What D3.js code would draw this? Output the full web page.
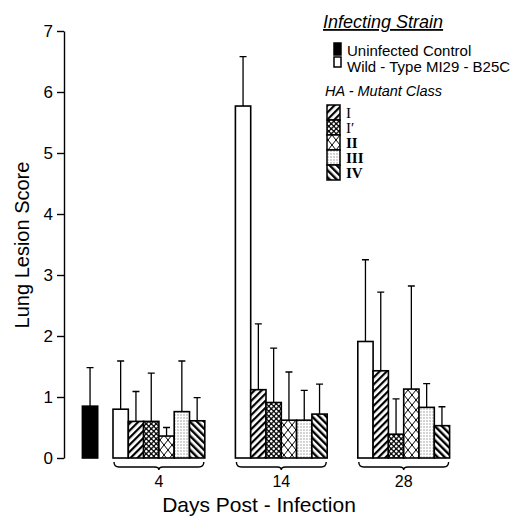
<!DOCTYPE html>
<meta charset="utf-8">
<style>
    body { margin: 0; background: #fff; }
    svg { font-family: "Liberation Sans", Arial, sans-serif; }
    .bar { stroke: #000; stroke-width: 1.6; }
    .err { stroke: #000; stroke-width: 1.3; fill: none; }
    .axis path, .axis line { stroke: #000; stroke-width: 1.4; }
    .axis text { font-size: 17px; fill: #000; }
    .brace { fill: none; stroke: #000; stroke-width: 1.4; }
</style>
<body></body>
<script src="https://cdn.jsdelivr.net/npm/d3@7"></script>
<script>

    // data
    var days = ["4", "14", "28"];
    var classes = ["Wild-Type M129-B25C", "I", "I\u2032", "II", "III", "IV"];
    var patternIds = ["wt", "p1", "p1b", "p2", "p3", "p4"];

    var controlMean = 0.85, controlUpper = 1.48;

    var means = [
        [0.80, 0.60, 0.60, 0.36, 0.76, 0.61],  // day 4
        [5.77, 1.12, 0.91, 0.62, 0.62, 0.72],  // day 14
        [1.91, 1.43, 0.39, 1.13, 0.83, 0.53]   // day 28
    ];
    // top of each error bar (mean + sd)
    var uppers = [
        [1.59, 1.09, 1.39, 0.50, 1.59, 0.99],
        [6.58, 2.20, 1.80, 1.41, 1.11, 1.21],
        [3.25, 2.72, 0.97, 2.82, 1.22, 0.84]
    ];
    var yTicks = [0, 1, 2, 3, 4, 5, 6, 7];

    var width = 513, height = 518;

    var svg = d3.select("body").append("svg")
        .attr("width", width)
        .attr("height", height);

    // patterns for the mutant classes
    var defs = svg.append("defs");

    var p = defs.append("pattern").attr("id", "p1").attr("patternUnits", "userSpaceOnUse")
        .attr("width", 5).attr("height", 5).attr("patternTransform", "rotate(45)");
    p.append("rect").attr("width", 5).attr("height", 5).attr("fill", "#fff");
    p.append("rect").attr("width", 2.2).attr("height", 5).attr("fill", "#000");

    p = defs.append("pattern").attr("id", "p1b").attr("patternUnits", "userSpaceOnUse")
        .attr("width", 5).attr("height", 5);
    p.append("rect").attr("width", 5).attr("height", 5).attr("fill", "#111");
    p.append("circle").attr("cx", 1.25).attr("cy", 1.25).attr("r", 1.2).attr("fill", "#fff");
    p.append("circle").attr("cx", 3.75).attr("cy", 3.75).attr("r", 1.2).attr("fill", "#fff");

    p = defs.append("pattern").attr("id", "p2").attr("patternUnits", "userSpaceOnUse")
        .attr("width", 8).attr("height", 10);
    p.append("rect").attr("width", 8).attr("height", 10).attr("fill", "#fff");
    p.append("path").attr("d", "M0,0L8,10M8,0L0,10")
        .attr("stroke", "#000").attr("stroke-width", 1).attr("fill", "none");

    p = defs.append("pattern").attr("id", "p3").attr("patternUnits", "userSpaceOnUse")
        .attr("width", 3).attr("height", 3);
    p.append("rect").attr("width", 3).attr("height", 3).attr("fill", "#fff");
    p.append("rect").attr("x", 0.5).attr("y", 0.5).attr("width", 1).attr("height", 1).attr("fill", "#555");

    p = defs.append("pattern").attr("id", "p4").attr("patternUnits", "userSpaceOnUse")
        .attr("width", 5).attr("height", 5).attr("patternTransform", "rotate(-45)");
    p.append("rect").attr("width", 5).attr("height", 5).attr("fill", "#fff");
    p.append("rect").attr("width", 2.4).attr("height", 5).attr("fill", "#000");

    function fillFor(id) {
        return id === "wt" ? "#fff" : "url(#" + id + ")";
    }

    // scales: x is in "bar slots", each group is 8 slots apart
    var x = d3.scaleLinear().domain([0, 1]).range([113, 128.3]);
    var y = d3.scaleLinear().domain([0, 7]).range([458, 31]);

    svg.append("g")
        .attr("class", "axis")
        .attr("transform", "translate(64,0)")
        .call(d3.axisLeft(y).tickValues(yTicks).tickFormat(d3.format("d"))
            .tickSize(7).tickSizeOuter(0).tickPadding(4))
        .attr("font-family", null);

    // build flat list of bars
    var bars = [{slot: -2, mean: controlMean, upper: controlUpper, fill: "#000"}];
    days.forEach(function(d, g) {
        classes.forEach(function(c, i) {
            bars.push({slot: g * 8 + i, mean: means[g][i], upper: uppers[g][i], fill: fillFor(patternIds[i])});
        });
    });

    var bw = x(1) - x(0);

    // error bars first so the bar outline sits over them
    svg.selectAll(".err").data(bars).enter().append("path")
        .attr("class", "err")
        .attr("d", function(d) {
            var cx = x(d.slot) + bw / 2;
            return "M" + cx + "," + y(d.mean) + "V" + y(d.upper) +
                "M" + (cx - 3.5) + "," + y(d.upper) + "H" + (cx + 3.5);
        });

    svg.selectAll(".bar").data(bars).enter().append("rect")
        .attr("class", "bar")
        .attr("x", function(d) { return x(d.slot); })
        .attr("y", function(d) { return y(d.mean); })
        .attr("width", bw)
        .attr("height", function(d) { return y(0) - y(d.mean); })
        .attr("fill", function(d) { return d.fill; });

    // braces under each group
    days.forEach(function(d, g) {
        var x0 = x(g * 8) + 1, x1 = x(g * 8 + 6) - 1, m = (x0 + x1) / 2, top = 462, low = 467;
        svg.append("path").attr("class", "brace")
            .attr("d", "M" + x0 + "," + top + "Q" + x0 + "," + low + " " + (x0 + 5) + "," + low +
                "H" + (m - 4) + "Q" + m + "," + low + " " + m + "," + (low + 3) +
                "Q" + m + "," + low + " " + (m + 4) + "," + low +
                "H" + (x1 - 5) + "Q" + x1 + "," + low + " " + x1 + "," + top);
        svg.append("text")
            .attr("x", m).attr("y", 487)
            .attr("text-anchor", "middle")
            .attr("font-size", 16)
            .text(d);
    });

    // axis titles
    svg.append("text")
        .attr("transform", "translate(29,245) rotate(-90)")
        .attr("text-anchor", "middle")
        .attr("font-size", 20)
        .text("Lung Lesion Score");

    svg.append("text")
        .attr("x", 259).attr("y", 512)
        .attr("text-anchor", "middle")
        .attr("font-size", 21)
        .text("Days Post - Infection");

    // legend
    var lg = svg.append("g");
    lg.append("text")
        .attr("x", 323).attr("y", 28)
        .attr("font-size", 18).attr("font-style", "italic")
        .attr("text-decoration", "underline")
        .text("Infecting Strain");

    lg.append("rect").attr("x", 334).attr("y", 43).attr("width", 7).attr("height", 12)
        .attr("fill", "#000").attr("stroke", "#000").attr("stroke-width", 1.5);
    lg.append("rect").attr("x", 334).attr("y", 57).attr("width", 7).attr("height", 10)
        .attr("fill", "#fff").attr("stroke", "#000").attr("stroke-width", 1.5);
    lg.append("text").attr("x", 347).attr("y", 56).attr("font-size", 15).text("Uninfected  Control");
    lg.append("text").attr("x", 347).attr("y", 72).attr("font-size", 15).text("Wild - Type  MI29 - B25C");

    lg.append("text")
        .attr("x", 325).attr("y", 96)
        .attr("font-size", 14.5).attr("font-style", "italic")
        .text("HA - Mutant  Class");

    var mutants = classes.slice(1);
    mutants.forEach(function(c, i) {
        var yy = 105 + i * 15;
        lg.append("rect").attr("x", 327).attr("y", yy).attr("width", 13).attr("height", 15)
            .attr("fill", fillFor(patternIds[i + 1])).attr("stroke", "#000").attr("stroke-width", 1.5);
        lg.append("text").attr("x", 346).attr("y", yy + 13)
            .attr("font-family", "'Liberation Serif', 'DejaVu Serif', serif")
            .attr("font-size", 15)
            .attr("font-weight", i >= 2 ? "bold" : "normal")
            .text(c);
    });
</script>
